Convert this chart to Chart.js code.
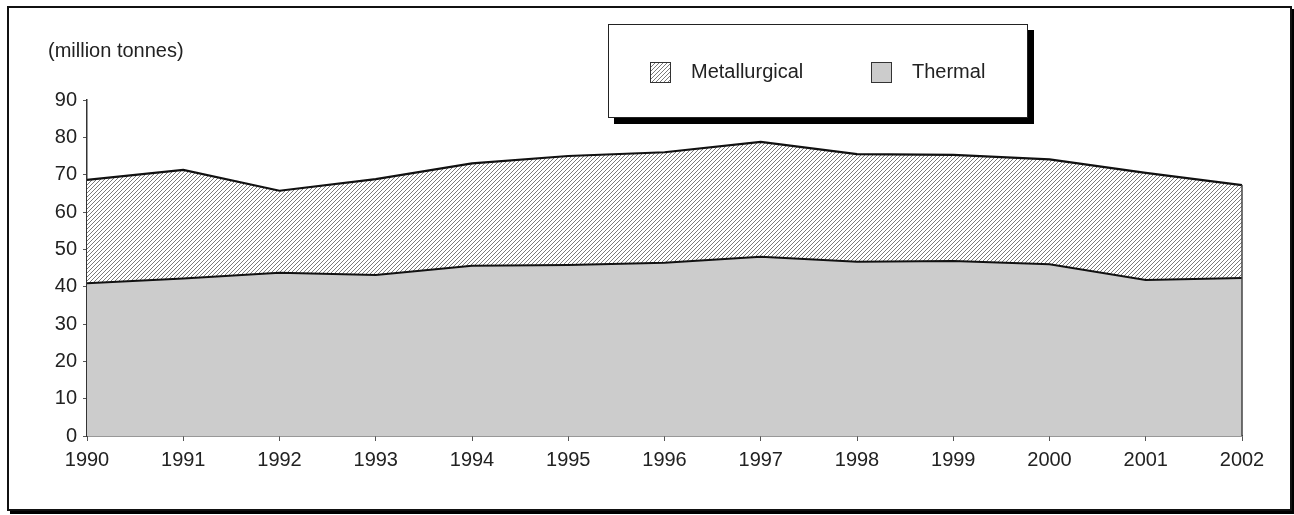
<!DOCTYPE html>
<html>
<head>
<meta charset="utf-8">
<script src="https://cdn.jsdelivr.net/npm/chart.js@4.4.1/dist/chart.umd.min.js"></script>
<style>
  body { margin: 0; background: #fff; font-family: "Liberation Sans", Arial, sans-serif; }
  #wrap { position: relative; width: 1294px; height: 515px; overflow: hidden; }
  #frame { position: absolute; left: 7px; top: 6px; width: 1281px; height: 501px; border: 2px solid #111; box-shadow: 3px 3px 0 #000; }
  #chart { position: absolute; left: 0; top: 0; }
  #unit { position: absolute; left: 48px; top: 39px; font-size: 20px; color: #222; }
  #legend { position: absolute; left: 608px; top: 24px; width: 418px; height: 92px; background: #fff; border: 1.5px solid #222; box-shadow: 6px 6px 0 #000; }
  .sw { position: absolute; top: 37px; width: 19px; height: 19px; border: 1px solid #333; }
  .lbl { position: absolute; top: 35px; font-size: 20px; color: #222; }
</style>
</head>
<body>
<div id="wrap">
  <div id="frame"></div>
  <canvas id="chart" width="1294" height="515"></canvas>
  <div id="unit">(million tonnes)</div>
  <div id="legend">
    <div class="sw" id="swMet" style="left:41px;"></div>
    <div class="lbl" style="left:82px;">Metallurgical</div>
    <div class="sw" style="left:262px; background:#cccccc;"></div>
    <div class="lbl" style="left:303px;">Thermal</div>
  </div>
</div>
<script>
  // Data (million tonnes)
  const years = ['1990', '1991', '1992', '1993', '1994', '1995', '1996', '1997', '1998', '1999', '2000', '2001', '2002'];
  const thermal = [40.9, 42.2, 43.7, 43.1, 45.6, 45.8, 46.4, 48.0, 46.7, 46.9, 46.0, 41.8, 42.3];
  const metallurgical = [27.7, 29.1, 22.0, 25.7, 27.4, 29.2, 29.6, 30.8, 28.8, 28.4, 28.1, 28.7, 24.9];
  const yTicks = [0, 10, 20, 30, 40, 50, 60, 70, 80, 90];

  // hatch pattern "/"
  function makeHatch() {
    const c = document.createElement('canvas');
    c.width = 4; c.height = 4;
    const g = c.getContext('2d');
    g.fillStyle = '#fff';
    g.fillRect(0, 0, 4, 4);
    g.strokeStyle = '#7a7a7a';
    g.lineWidth = 1;
    g.beginPath();
    g.moveTo(-1, 5); g.lineTo(5, -1);
    g.moveTo(-1, 1); g.lineTo(1, -1);
    g.moveTo(3, 5); g.lineTo(5, 3);
    g.stroke();
    return c;
  }
  const hatchCanvas = makeHatch();
  document.getElementById('swMet').style.background = 'url(' + hatchCanvas.toDataURL() + ')';

  const ctx = document.getElementById('chart').getContext('2d');
  const hatch = ctx.createPattern(hatchCanvas, 'repeat');

  // closes the right edge of the stacked area
  const edgeLine = {
    id: 'edgeLine',
    afterDatasetsDraw(chart) {
      const x = chart.scales.x, y = chart.scales.y;
      const last = years.length - 1;
      const px = x.getPixelForValue(last);
      const c = chart.ctx;
      c.save();
      c.strokeStyle = '#444';
      c.lineWidth = 1.5;
      c.beginPath();
      c.moveTo(px, y.getPixelForValue(0));
      c.lineTo(px, y.getPixelForValue(thermal[last] + metallurgical[last]));
      c.stroke();
      c.restore();
    }
  };

  new Chart(ctx, {
    type: 'line',
    data: {
      labels: years,
      datasets: [{
        label: 'Thermal',
        data: thermal,
        fill: 'origin',
        backgroundColor: '#cccccc',
        borderColor: '#111',
        borderWidth: 2,
        pointRadius: 0,
        tension: 0
      }, {
        label: 'Metallurgical',
        data: metallurgical,
        fill: '-1',
        backgroundColor: hatch,
        borderColor: '#111',
        borderWidth: 2.2,
        pointRadius: 0,
        tension: 0
      }]
    },
    options: {
      responsive: false,
      animation: false,
      layout: { padding: { left: 0, top: 100, right: 52, bottom: 0 } },
      plugins: {
        legend: { display: false },
        tooltip: { enabled: false }
      },
      scales: {
        x: {
          offset: false,
          grid: { drawOnChartArea: false, tickLength: 5, color: '#555' },
          border: { color: '#333', width: 1.5 },
          ticks: { color: '#222', font: { family: 'Liberation Sans', size: 20 }, padding: 7, maxRotation: 0, autoSkip: false },
          afterFit: (s) => { s.height = 79; }
        },
        y: {
          stacked: true,
          min: 0,
          max: 90,
          grid: { drawOnChartArea: false, tickLength: 4, color: '#555' },
          border: { color: '#333', width: 1.5 },
          afterBuildTicks: (s) => { s.ticks = yTicks.map(v => ({ value: v })); },
          ticks: { color: '#222', font: { family: 'Liberation Sans', size: 20 }, padding: 6 },
          afterFit: (s) => { s.width = 87; }
        }
      }
    },
    plugins: [edgeLine]
  });
</script>
</body>
</html>
